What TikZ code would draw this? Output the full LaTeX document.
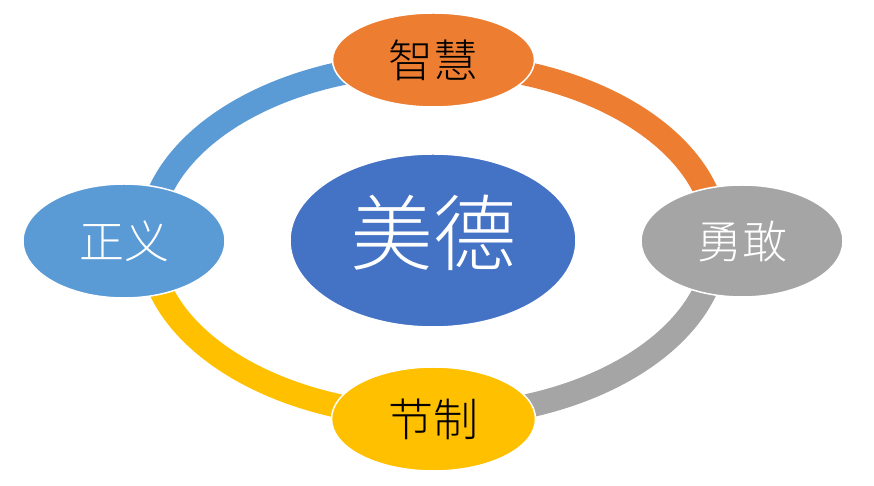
\documentclass[tikz,border=0pt]{standalone}
\usepackage{fontspec}
\newfontfamily\cjk{Noto Sans CJK SC Light}
\usetikzlibrary{shapes.geometric}
\definecolor{cOrange}{HTML}{ED7D31}
\definecolor{cGray}{HTML}{A5A5A5}
\definecolor{cYellow}{HTML}{FFC000}
\definecolor{cLBlue}{HTML}{5B9BD5}
\definecolor{cBlue}{HTML}{4472C4}
\tikzset{
  ringarc/.style={line width=24pt, line cap=butt},
  virtue/.style={ellipse, draw=white, line width=1.5pt, inner sep=0pt,
    font=\cjk\fontsize{45}{45}\selectfont},
  core/.style={ellipse, draw=white, line width=1.5pt, inner sep=0pt,
    font=\cjk\fontsize{83}{83}\selectfont, text=white}
}
\begin{document}
\begin{tikzpicture}[x=1pt,y=1pt]
\path[use as bounding box, fill=white] (0,0) rectangle (874,486);
\coordinate (rc) at (433,246);
% ring arcs
\draw[ringarc, cOrange] (rc) ++(0,176) arc[start angle=90, end angle=0, x radius=284, y radius=176];
\draw[ringarc, cGray] (rc) ++(284,0) arc[start angle=0, end angle=-90, x radius=284, y radius=176];
\draw[ringarc, cYellow] (rc) ++(0,-176) arc[start angle=270, end angle=180, x radius=284, y radius=176];
\draw[ringarc, cLBlue] (rc) ++(-284,0) arc[start angle=180, end angle=90, x radius=284, y radius=176];
% nodes
\node[core, fill=cBlue, minimum width=286pt, minimum height=173pt] (mei) at (433,245.5) {};
\node[text=white, font=\cjk\fontsize{83}{83}\selectfont, inner sep=0pt] (meit) at (433.5,253) {美德};
\node[virtue, fill=cOrange, minimum width=202pt, minimum height=94pt, text=black] (zh) at (433.5,426) {智慧};
\node[virtue, fill=cGray, minimum width=202pt, minimum height=112pt, text=white] (yo) at (742,245) {勇敢};
\node[virtue, fill=cYellow, minimum width=204pt, minimum height=104pt, text=black] (jz) at (433.5,67) {节制};
\node[virtue, fill=cLBlue, minimum width=202pt, minimum height=114pt, text=white] (zy) at (124,245) {正义};
\end{tikzpicture}
\end{document}
